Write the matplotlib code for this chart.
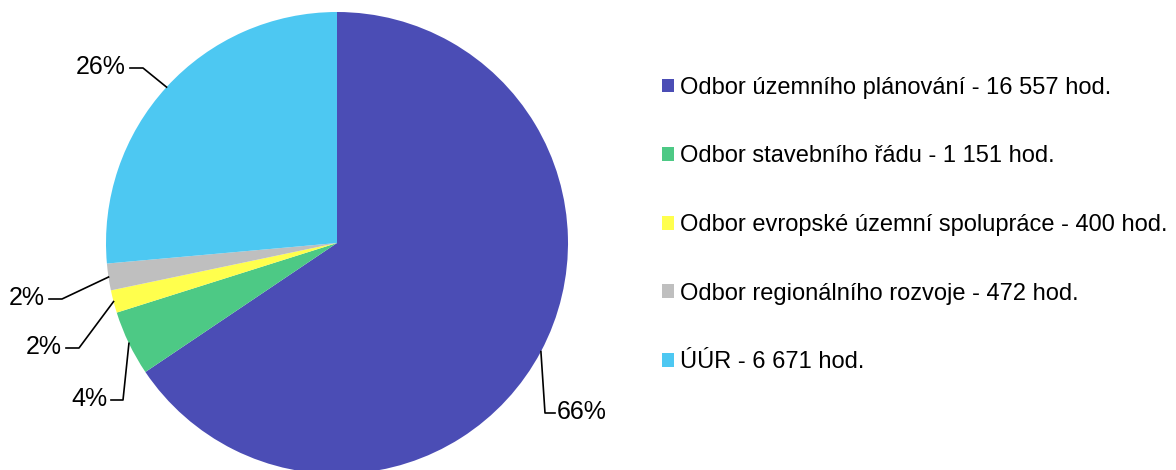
import numpy as np
import matplotlib.pyplot as plt

plt.rcParams['font.family'] = ['Liberation Sans', 'DejaVu Sans']

# data
odbory = ['Odbor územního plánování - 16 557 hod.',
          'Odbor stavebního řádu - 1 151 hod.',
          'Odbor evropské územní spolupráce - 400 hod.',
          'Odbor regionálního rozvoje - 472 hod.',
          'ÚÚR - 6 671 hod.']
hodiny = [16557, 1151, 400, 472, 6671]
popisky = ['66%', '4%', '2%', '2%', '26%']
barvy = ['#4B4DB5', '#4DC985', '#FFFF4D', '#BFBFBF', '#4DC8F2']

W, H = 1176, 470
fig = plt.figure(figsize=(W / 100, H / 100), dpi=100)
ax = fig.add_axes([0, 0, 1, 1])

cx, cy, r = 337, H - 243, 231
wedges, _ = ax.pie(hodiny, colors=barvy, startangle=90, counterclock=False,
                   center=(cx, cy), radius=r, frame=True)

# leader lines: (elbow x, elbow y, end x) in pixels, text side
koleno = [(545, 413, 555), (123, 400, 111), (79, 348, 66), (62, 299, 49), (143, 68, 130)]
for w, lab, (ex, ey, kx) in zip(wedges, popisky, koleno):
    ang = np.deg2rad((w.theta1 + w.theta2) / 2)
    px = cx + r * np.cos(ang)
    py = cy + r * np.sin(ang)
    ax.plot([px, ex, kx], [py, H - ey, H - ey], color='black', lw=1.2)
    if kx > ex:
        ax.text(kx + 2, H - ey + 1, lab, ha='left', va='center', fontsize=18)
    else:
        ax.text(kx - 4, H - ey + 1, lab, ha='right', va='center', fontsize=18)

ax.legend(wedges, odbory, loc='center left', bbox_to_anchor=(662, H - 225),
          bbox_transform=ax.transData, frameon=False, fontsize=17,
          handlelength=0.52, handleheight=0.52, handletextpad=0.25,
          labelspacing=1.97, borderpad=0, borderaxespad=0)

ax.set_xlim(0, W)
ax.set_ylim(0, H)
ax.set_aspect('equal')
ax.axis('off')

fig.savefig('out.png', dpi=100)
